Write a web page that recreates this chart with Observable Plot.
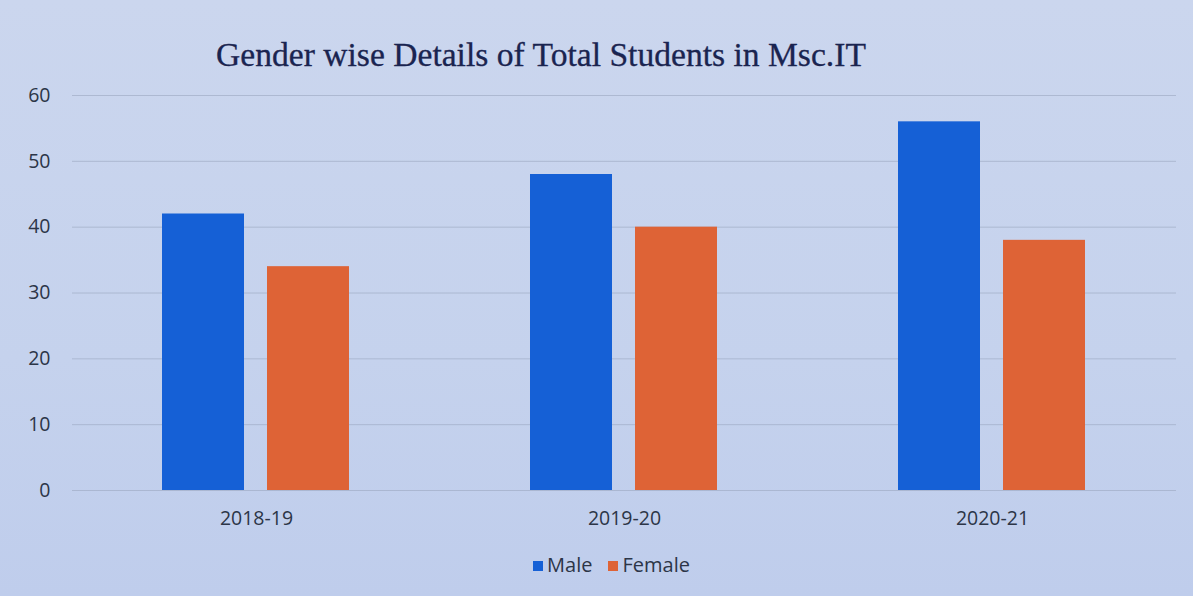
<!DOCTYPE html>
<html>
<head>
<meta charset="utf-8">
<script src="https://cdn.jsdelivr.net/npm/d3@7"></script>
<script src="https://cdn.jsdelivr.net/npm/@observablehq/plot@0.6"></script>
<style>
  html, body { margin: 0; padding: 0; }
  body {
    width: 1193px; height: 596px; position: relative; overflow: hidden;
    background: linear-gradient(180deg, #cbd6ee 0%, #c5d2ed 60%, #bfcdec 100%);
    font-family: "Open Sans", sans-serif;
  }
  #title {
    position: absolute; left: 0; top: 38px; width: 1082px; text-align: center;
    font-family: "Liberation Serif", "Times New Roman", serif; font-size: 33.6px; line-height: 1;
    color: #1a2450; -webkit-text-stroke: 0.3px #1a2450;
  }
  #chart { position: absolute; left: 0; top: 78px; }
  #legend {
    position: absolute; left: 0; width: 1223px; top: 551px; text-align: center;
    font-size: 20px; color: #2c3547; line-height: 28px;
  }
  #legend span.item { margin: 0 8px; }
  #legend span.sw { display: inline-block; width: 10px; height: 10px; margin-right: 4px; vertical-align: 1px; }
</style>
</head>
<body>
<div id="title">Gender wise Details of Total Students in Msc.IT</div>
<div id="chart"></div>
<div id="legend"></div>
<script>
const years = ["2018-19", "2019-20", "2020-21"];
const genders = ["Male", "Female"];
const male = [42, 48, 56];
const female = [34, 40, 38];
const yTicks = [0, 10, 20, 30, 40, 50, 60];
const colors = ["#1560d6", "#de6336"];

const data = years.flatMap((yr, i) => [
  {year: yr, gender: "Male", value: male[i]},
  {year: yr, gender: "Female", value: female[i]}
]);

const chart = Plot.plot({
  width: 1193,
  height: 462,
  marginLeft: 71,
  marginRight: 16,
  marginTop: 17,
  marginBottom: 50,
  style: {background: "transparent", color: "#2c3547", fontFamily: "'Open Sans', sans-serif", fontSize: "19.5px"},
  fx: {domain: years, padding: 0, label: null},
  x: {domain: genders, paddingInner: 0.217, paddingOuter: 0.845, axis: null},
  y: {domain: [0, 60], label: null},
  color: {domain: genders, range: colors},
  marks: [
    Plot.gridY(yTicks, {stroke: "#9ba7bf", strokeOpacity: 0.6, strokeWidth: 1}),
    Plot.axisY(yTicks, {tickSize: 0, tickPadding: 22, label: null, fill: "#2c3547", fontSize: 19.5}),
    Plot.barY(data, {fx: "year", x: "gender", y: "value", fill: "gender"}),
    Plot.axisFx({anchor: "bottom", tickSize: 0, tickPadding: 21, label: null, fill: "#2c3547", fontSize: 19.5})
  ]
});
document.getElementById("chart").appendChild(chart);

const legend = document.getElementById("legend");
genders.forEach((g, i) => {
  const item = document.createElement("span");
  item.className = "item";
  const sw = document.createElement("span");
  sw.className = "sw";
  sw.style.background = colors[i];
  item.appendChild(sw);
  item.appendChild(document.createTextNode(g));
  legend.appendChild(item);
});
</script>
</body>
</html>
